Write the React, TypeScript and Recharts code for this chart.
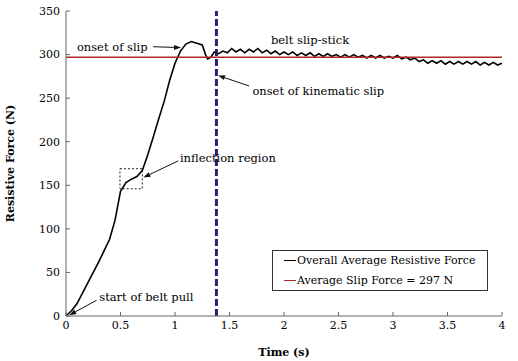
import {
  LineChart,
  Line,
  XAxis,
  YAxis,
  ReferenceLine,
  ReferenceArea,
  ReferenceDot,
} from "recharts";

// time (s) / overall average resistive force (N)
const riseTime = [0, 0.05, 0.1, 0.15, 0.2, 0.25, 0.3, 0.35, 0.4, 0.45, 0.5, 0.55, 0.6, 0.65, 0.7, 0.75, 0.8, 0.85, 0.9, 0.95, 1.0, 1.05, 1.1, 1.15, 1.2, 1.25, 1.28, 1.3, 1.33, 1.36];
const riseForce = [0, 6, 14, 26, 38, 50, 62, 75, 88, 110, 143, 153, 157, 160, 167, 185, 205, 226, 246, 270, 290, 304, 312, 315, 313, 311, 300, 295, 297, 303];

const slipTime = [
  1.4, 1.44, 1.48, 1.52, 1.56, 1.6, 1.64, 1.68, 1.72, 1.76, 1.8, 1.84, 1.88, 1.92, 1.96,
  2.0, 2.04, 2.08, 2.12, 2.16, 2.2, 2.24, 2.28, 2.32, 2.36, 2.4, 2.44, 2.48, 2.52, 2.56,
  2.6, 2.64, 2.68, 2.72, 2.76, 2.8, 2.84, 2.88, 2.92, 2.96, 3.0, 3.04, 3.08, 3.12, 3.16,
  3.2, 3.24, 3.28, 3.32, 3.36, 3.4, 3.44, 3.48, 3.52, 3.56, 3.6, 3.64, 3.68, 3.72, 3.76,
  3.8, 3.84, 3.88, 3.92, 3.96, 4.0,
];
const slipForce = [
  301, 304, 302, 307, 303, 306, 302, 306, 303, 307, 302, 305, 301, 304, 300,
  303, 300, 303, 299, 302, 299, 302, 298, 301, 298, 301, 298, 300, 297, 300,
  297, 300, 297, 299, 296, 299, 296, 299, 296, 298, 296, 299, 295, 297, 294,
  296, 292, 294, 290, 293, 290, 293, 289, 292, 289, 292, 289, 292, 289, 292,
  288, 291, 288, 291, 288, 290,
];

const xTicks = [0, 0.5, 1, 1.5, 2, 2.5, 3, 3.5, 4];
const yTicks = [0, 50, 100, 150, 200, 250, 300, 350];

const slipForceAvg = 297;
const kinematicSlipTime = 1.38;

const data = [...riseTime, ...slipTime].map((t, i) => ({
  t,
  force: [...riseForce, ...slipForce][i],
}));

// annotation text anchors [t, F] and arrows [from, to]
const notes = [
  { text: "onset of slip", t: 0.1, f: 309, arrow: [[0.8, 309], [1.055, 308]] },
  { text: "belt slip-stick", t: 1.88, f: 317, arrow: null },
  { text: "onset of kinematic slip", t: 1.71, f: 258, arrow: [[1.68, 264], [1.395, 276]] },
  { text: "inflection region", t: 1.045, f: 181, arrow: [[1.03, 178], [0.71, 159]] },
  { text: "start of belt pull", t: 0.305, f: 22, arrow: [[0.28, 18], [0.03, 1]] },
];

const legendItems = [
  { label: "Overall Average Resistive Force", color: "#000" },
  { label: "Average Slip Force = 297 N", color: "#b3262b" },
];

const font = "DejaVu Serif";

function Arrow(props: any) {
  const { x1, y1, x2, y2 } = props;
  const a = Math.atan2(y2 - y1, x2 - x1);
  const L = 7;
  const W = 2.5;
  const bx = x2 - L * Math.cos(a);
  const by = y2 - L * Math.sin(a);
  const px = -Math.sin(a) * W;
  const py = Math.cos(a) * W;
  return (
    <g>
      <line x1={x1} y1={y1} x2={bx} y2={by} stroke="#111" strokeWidth={1} />
      <polygon points={`${x2},${y2} ${bx + px},${by + py} ${bx - px},${by - py}`} fill="#111" />
    </g>
  );
}

function LegendBox() {
  return (
    <div
      style={{
        position: "absolute",
        left: 272,
        top: 250,
        width: 214,
        height: 39,
        border: "1px solid #333",
        background: "#fff",
        fontFamily: font,
        fontSize: 11,
        color: "#000",
      }}
    >
      {legendItems.map((it) => (
        <div key={it.label} style={{ display: "flex", alignItems: "center", height: 19.5, paddingLeft: 11, whiteSpace: "nowrap" }}>
          <span style={{ display: "inline-block", width: 12, height: 0, borderTop: `1.5px solid ${it.color}`, marginRight: 1 }} />
          <span>{it.label}</span>
        </div>
      ))}
    </div>
  );
}

export default function App() {
  return (
    <div style={{ position: "absolute", left: 0, top: 0, width: 518, height: 361, background: "#fff" }}>
      <LineChart width={518} height={361} data={data} margin={{ top: 11, right: 16, left: 0, bottom: 0 }}>
        <XAxis
          dataKey="t"
          type="number"
          domain={[0, 4]}
          ticks={xTicks}
          height={45}
          tickSize={-4}
          tickMargin={9}
          stroke="#666"
          tick={{ fill: "#000", fontSize: 11, fontFamily: font }}
          label={{ value: "Time (s)", position: "insideBottom", offset: 5, fill: "#000", fontSize: 11, fontWeight: "bold", fontFamily: font }}
        />
        <XAxis xAxisId="top" dataKey="t" type="number" domain={[0, 4]} ticks={xTicks} orientation="top" height={0} tickSize={-4} tick={false} stroke="#666" />
        <YAxis
          type="number"
          domain={[0, 350]}
          ticks={yTicks}
          width={66}
          tickSize={-4}
          tickMargin={10}
          stroke="#666"
          tick={{ fill: "#000", fontSize: 11, fontFamily: font }}
          label={{ value: "Resistive Force (N)", angle: -90, position: "insideLeft", offset: 10, style: { textAnchor: "middle" }, fill: "#000", fontSize: 11, fontWeight: "bold", fontFamily: font }}
        />
        <YAxis yAxisId="right" orientation="right" type="number" domain={[0, 350]} ticks={yTicks} width={0} tickSize={-4} tick={false} stroke="#666" />
        <Line dataKey="force" name="Overall Average Resistive Force" stroke="#000" strokeWidth={1.6} dot={false} type="linear" isAnimationActive={false} />
        <ReferenceLine y={slipForceAvg} stroke="#b3262b" strokeWidth={1.6} />
        <ReferenceLine x={kinematicSlipTime} stroke="#24246e" strokeWidth={3} strokeDasharray="7 3" />
        <ReferenceArea x1={0.495} x2={0.7} y1={146} y2={169} fill="none" stroke="#222" strokeWidth={1} strokeDasharray="2 2" />
        {notes.map((n) =>
          n.arrow ? (
            <ReferenceLine
              key={n.text + "-arrow"}
              segment={[{ x: n.arrow[0][0], y: n.arrow[0][1] }, { x: n.arrow[1][0], y: n.arrow[1][1] }]}
              shape={(p: any) => <Arrow {...p} />}
            />
          ) : null
        )}
        {notes.map((n) => (
          <ReferenceDot
            key={n.text}
            x={n.t}
            y={n.f}
            r={0}
            shape={(p: any) => (
              <text x={p.cx} y={p.cy} dominantBaseline="central" fontFamily={font} fontSize={11.5} fill="#000">
                {n.text}
              </text>
            )}
          />
        ))}
      </LineChart>
      <LegendBox />
    </div>
  );
}
